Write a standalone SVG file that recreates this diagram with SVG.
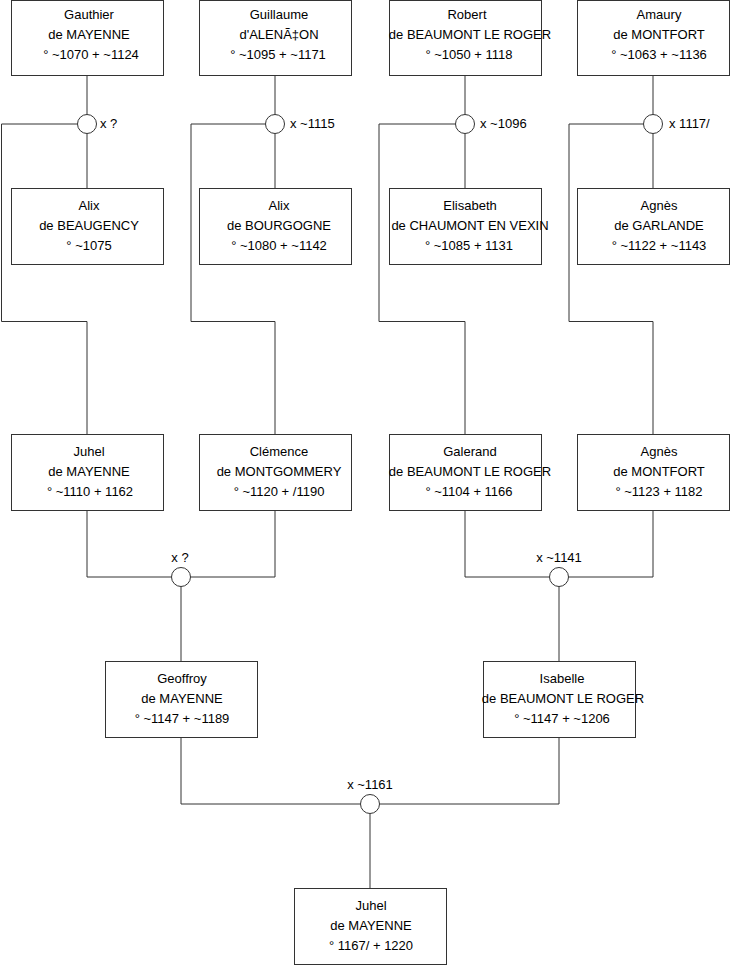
<svg xmlns="http://www.w3.org/2000/svg" width="740" height="975" viewBox="0 0 740 975">
<style>
.box{fill:#fff;stroke:#333;stroke-width:1}
.c{fill:#fff;stroke:#333;stroke-width:1}
.ln{fill:none;stroke:#333;stroke-width:1}
text{font-family:"Liberation Sans",Arial,sans-serif;font-size:13px;fill:#000}
.m{text-anchor:middle}
</style>
<rect width="740" height="975" fill="#fff"/>
<g id="connectors">
<path class="ln" d="M87 75.5V114.5M87 133.5V188.5M77.5 124H1.5V321.5H87V434.5"/>
<path class="ln" d="M275 75.5V114.5M275 133.5V188.5M265.5 124H191V321.5H275V434.5"/>
<path class="ln" d="M465 75.5V114.5M465 133.5V188.5M455.5 124H379V321.5H465V434.5"/>
<path class="ln" d="M653 75.5V114.5M653 133.5V188.5M643.5 124H569V321.5H653V434.5"/>
<path class="ln" d="M87 510.5V577H171.5M275 510.5V577H190.5M181 586.5V661.5"/>
<path class="ln" d="M465 510.5V577H549.5M653 510.5V577H568.5M559 586.5V661.5"/>
<path class="ln" d="M181 737.5V804H360.5M559 737.5V804H379.5M370 813.5V888.5"/>
</g>
<g id="m1"><circle class="c" cx="87" cy="124" r="9.5"/><text x="100" y="128">x ?</text></g>
<g id="m2"><circle class="c" cx="275" cy="124" r="9.5"/><text x="290" y="128">x ~1115</text></g>
<g id="m3"><circle class="c" cx="465" cy="124" r="9.5"/><text x="480" y="128">x ~1096</text></g>
<g id="m4"><circle class="c" cx="653" cy="124" r="9.5"/><text x="669" y="128">x 1117/</text></g>
<g id="m5"><circle class="c" cx="181" cy="577" r="9.5"/><text class="m" x="180" y="562">x ?</text></g>
<g id="m6"><circle class="c" cx="559" cy="577" r="9.5"/><text class="m" x="559" y="562">x ~1141</text></g>
<g id="m7"><circle class="c" cx="370" cy="804" r="9.5"/><text class="m" x="370" y="789">x ~1161</text></g>
<g id="gauthier"><rect class="box" x="11.5" y="0.5" width="152" height="75"/>
<text class="m" x="89" y="19">Gauthier</text><text class="m" x="89" y="39">de MAYENNE</text><text class="m" x="91" y="59">° ~1070 + ~1124</text></g>
<g id="guillaume"><rect class="box" x="199.5" y="0.5" width="152" height="75"/>
<text class="m" x="279" y="19">Guillaume</text><text class="m" x="279" y="39">d'ALENÃ‡ON</text><text class="m" x="278" y="59">° ~1095 + ~1171</text></g>
<g id="robert"><rect class="box" x="389.5" y="0.5" width="152" height="75"/>
<text class="m" x="467" y="19">Robert</text><text class="m" x="470" y="39">de BEAUMONT LE ROGER</text><text class="m" x="469" y="59">° ~1050 + 1118</text></g>
<g id="amaury"><rect class="box" x="577.5" y="0.5" width="152" height="75"/>
<text class="m" x="659" y="19">Amaury</text><text class="m" x="659" y="39">de MONTFORT</text><text class="m" x="659" y="59">° ~1063 + ~1136</text></g>
<g id="alix1"><rect class="box" x="11.5" y="188.5" width="152" height="76"/>
<text class="m" x="89" y="210">Alix</text><text class="m" x="89" y="230">de BEAUGENCY</text><text class="m" x="89" y="250">° ~1075</text></g>
<g id="alix2"><rect class="box" x="199.5" y="188.5" width="152" height="76"/>
<text class="m" x="279" y="210">Alix</text><text class="m" x="279" y="230">de BOURGOGNE</text><text class="m" x="279" y="250">° ~1080 + ~1142</text></g>
<g id="elisabeth"><rect class="box" x="389.5" y="188.5" width="152" height="76"/>
<text class="m" x="470" y="210">Elisabeth</text><text class="m" x="470" y="230">de CHAUMONT EN VEXIN</text><text class="m" x="469" y="250">° ~1085 + 1131</text></g>
<g id="agnes1"><rect class="box" x="577.5" y="188.5" width="152" height="76"/>
<text class="m" x="659" y="210">Agnès</text><text class="m" x="659" y="230">de GARLANDE</text><text class="m" x="659" y="250">° ~1122 + ~1143</text></g>
<g id="juhel1"><rect class="box" x="11.5" y="434.5" width="152" height="76"/>
<text class="m" x="89" y="456">Juhel</text><text class="m" x="89" y="476">de MAYENNE</text><text class="m" x="90" y="496">° ~1110 + 1162</text></g>
<g id="clemence"><rect class="box" x="199.5" y="434.5" width="152" height="76"/>
<text class="m" x="279" y="456">Clémence</text><text class="m" x="279" y="476">de MONTGOMMERY</text><text class="m" x="279" y="496">° ~1120 + /1190</text></g>
<g id="galerand"><rect class="box" x="389.5" y="434.5" width="152" height="76"/>
<text class="m" x="470" y="456">Galerand</text><text class="m" x="470" y="476">de BEAUMONT LE ROGER</text><text class="m" x="469" y="496">° ~1104 + 1166</text></g>
<g id="agnes2"><rect class="box" x="577.5" y="434.5" width="152" height="76"/>
<text class="m" x="659" y="456">Agnès</text><text class="m" x="659" y="476">de MONTFORT</text><text class="m" x="659" y="496">° ~1123 + 1182</text></g>
<g id="geoffroy"><rect class="box" x="105.5" y="661.5" width="152" height="76"/>
<text class="m" x="182" y="683">Geoffroy</text><text class="m" x="182" y="703">de MAYENNE</text><text class="m" x="182" y="723">° ~1147 + ~1189</text></g>
<g id="isabelle"><rect class="box" x="483.5" y="661.5" width="152" height="76"/>
<text class="m" x="562" y="683">Isabelle</text><text class="m" x="563" y="703">de BEAUMONT LE ROGER</text><text class="m" x="562" y="723">° ~1147 + ~1206</text></g>
<g id="juhel2"><rect class="box" x="294.5" y="888.5" width="152" height="76"/>
<text class="m" x="371" y="910">Juhel</text><text class="m" x="371" y="930">de MAYENNE</text><text class="m" x="371" y="950">° 1167/ + 1220</text></g>
</svg>
